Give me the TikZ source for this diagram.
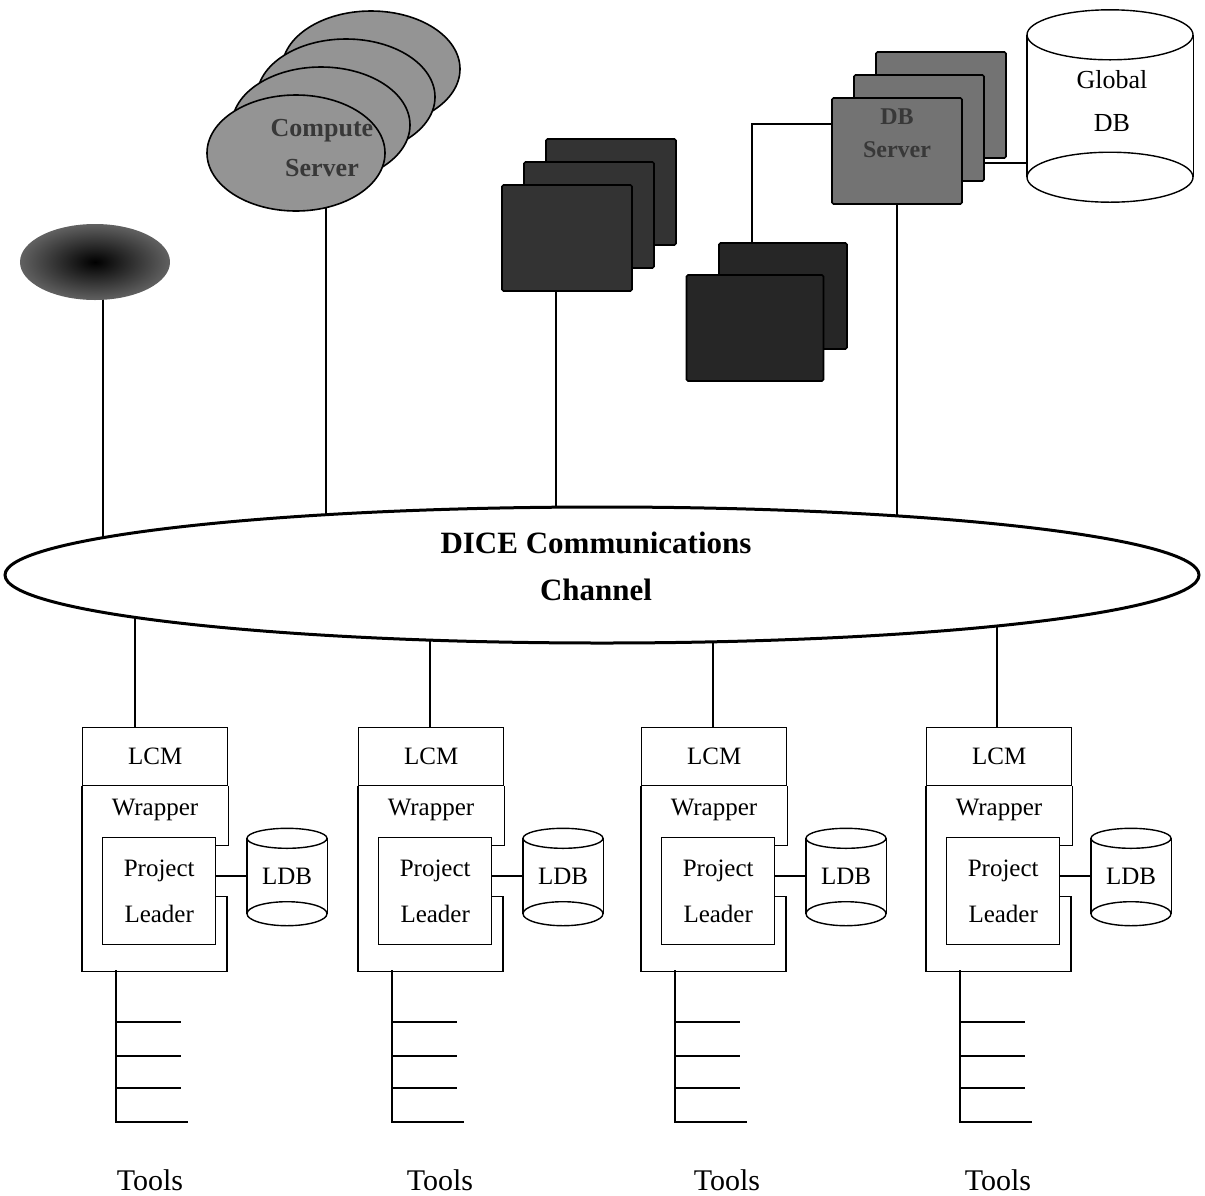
\documentclass[tikz,border=0pt]{standalone}
\usepackage{fontspec}
\setmainfont{Liberation Serif}
\usetikzlibrary{shapes.geometric,positioning,backgrounds}

\begin{document}
\begin{tikzpicture}[x=1pt,y=-1pt,
  link/.style={line width=1.4pt},
  lbl/.style={font=\fontsize{25}{46}\selectfont, align=center, inner sep=0pt},
  box/.style={rectangle, draw, line width=1.4pt, lbl},
  card/.style={rectangle, draw, line width=1.6pt, rounded corners=1.5pt, minimum width=130pt, minimum height=106pt},
  disk/.style={ellipse, draw, line width=1.6pt, fill=black!42, minimum width=178pt, minimum height=116pt},
  dim/.style={font=\bfseries\fontsize{26}{40}\selectfont, align=center, text=black!78}
]
\useasboundingbox (0,0) rectangle (1205,1195);

% servers above the channel
\node[ellipse, minimum width=150pt, minimum height=76pt, inner color=black, outer color=black!62] (grid) at (95,262) {};

\foreach \k in {3,2,1}
  \node[disk] (cs\k) at ({296+25*\k},{153-28*\k}) {};
\node[disk] (cs) at (296,153) {};
\node[dim] (cstext) at (322,148) {Compute\\Server};

\foreach \k in {2,1}
  \node[card, fill=black!80] (ms\k) at ({567+22*\k},{238-23*\k}) {};
\node[card, fill=black!80] (ms) at (567,238) {};

\foreach \k in {2,1}
  \node[card, fill=black!55] (ds\k) at ({897+22*\k},{151-23*\k}) {};
\node[card, fill=black!55] (ds) at (897,151) {};
\node[dim, font=\bfseries\fontsize{24}{33}\selectfont] (dstext) at (897,133) {DB\\Server};

\node[card, fill=black!85, minimum width=128pt] (ls1) at (783,296) {};
\node[card, fill=black!85, minimum width=137pt] (ls) at (755,328) {};

% global database
\node[minimum width=166pt, minimum height=142pt, inner sep=0pt] (gdb) at (1110,106) {};
\draw[link] (gdb.north west) -- (gdb.south west) (gdb.north east) -- (gdb.south east);
\draw[link] (gdb.north) ellipse (83pt and 25pt) (gdb.south) ellipse (83pt and 25pt);
\node[lbl, font=\fontsize{26}{43}\selectfont] (gdbtext) at (1112,101) {Global\\DB};

% communications channel
\node[ellipse, draw, line width=3pt, fill=white, minimum width=1194pt, minimum height=136pt] (chan) at (602,575) {};
\node[font=\bfseries\fontsize{31}{47}\selectfont, align=center] (chantext) at (596,566) {DICE Communications\\Channel};

% local units
\foreach \i/\x/\c/\t in {1/82/135/150, 2/358/430/440, 3/641/713/727, 4/926/997/998}{
  \node[box, minimum width=145pt, minimum height=58pt, anchor=north west] (lcm\i) at (\x,727) {LCM};
  \node[lbl] (wrap\i) at ({\x+73},810) {Wrapper};
  \node[box, minimum width=113pt, minimum height=107pt, anchor=north west] (pl\i) at ({\x+20},837) {Project\\Leader};
  \draw[link] (lcm\i.south west) -- ++(0,185) coordinate (foot\i) -- ++(145,0) -- ++(0,-75) -- ++(-12,0);
  \draw[link] (lcm\i.south east) -- ++(0,59) -- ++(-12,0);
  % local database
  \node[lbl, minimum width=80pt, minimum height=75pt] (ldb\i) at ({\x+205},876) {LDB};
  \draw[link] (ldb\i.north west) -- (ldb\i.south west) (ldb\i.north east) -- (ldb\i.south east);
  \draw[link] (ldb\i.north) ellipse (40pt and 10pt) (ldb\i.south) ellipse (40pt and 12pt);
  \draw[link] (pl\i.east |- ldb\i.west) -- (ldb\i.west);
  % tools
  \coordinate (tree\i) at ({\x+34},970);
  \draw[link] (tree\i) -- ++(0,152) -- ++(72,0);
  \foreach \y in {1022,1056,1088}
    \draw[link] (tree\i |- 0,\y) -- ++(65,0);
  \node[lbl, font=\fontsize{30}{36}\selectfont] (tools\i) at (\t,1180) {Tools};
  \coordinate (top\i) at (\c,727);
}

% connectors behind the shapes
\begin{scope}[on background layer]
  \draw[link] ([xshift=8pt]grid.center) -- ([xshift=8pt]grid.center |- chan.center);
  \draw[link] ([xshift=30pt]cs.center) -- ([xshift=30pt]cs.center |- chan.center);
  \draw[link] ([xshift=-11pt]ms.center) -- ([xshift=-11pt]ms.center |- chan.center);
  \draw[link] (ds.center) -- (ds.center |- chan.center);
  \coordinate (elb) at (752,124);
  \draw[link] (ds.center |- elb) -- (elb) -- (elb |- ls1.center);
  \draw[link] (ds1.center |- 0,163) -- (gdb.west |- 0,163);
  \foreach \i in {1,2,3,4}
    \draw[link] (top\i) -- (top\i |- chan.center);
\end{scope}
\end{tikzpicture}
\end{document}
